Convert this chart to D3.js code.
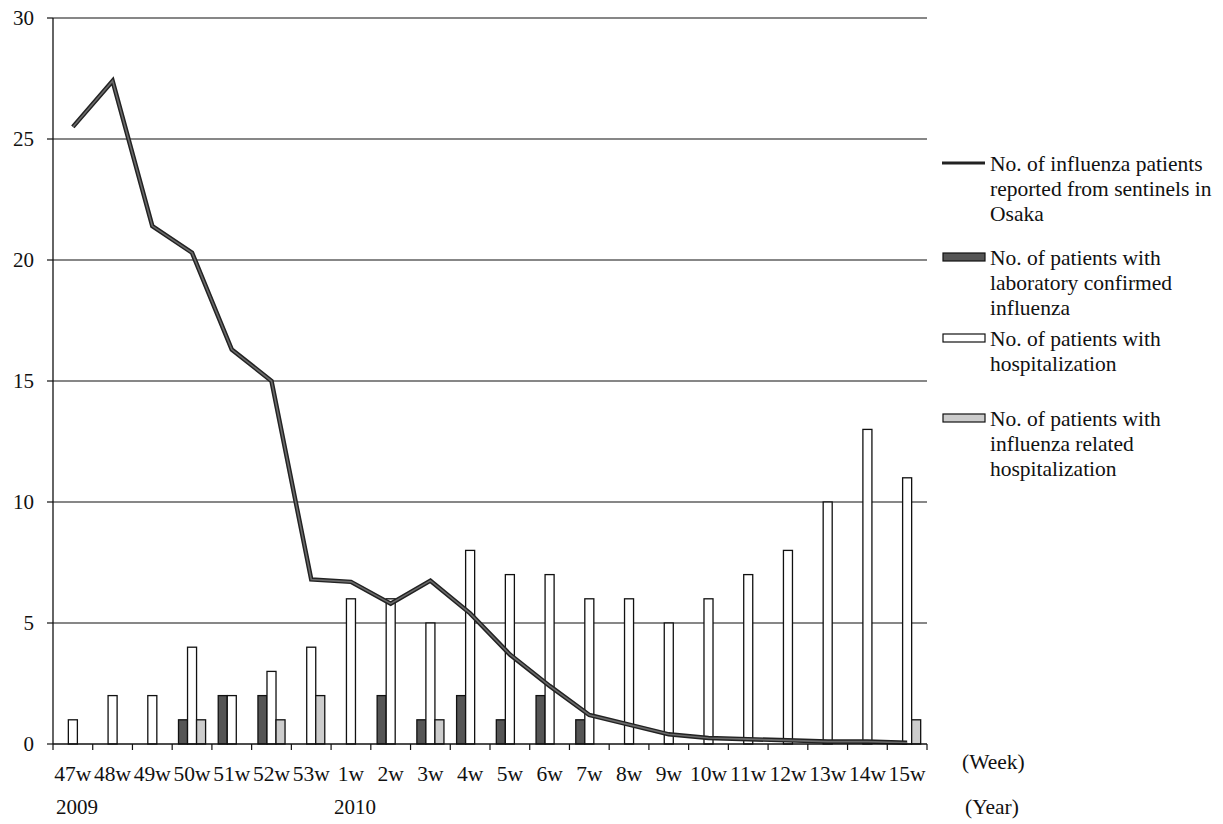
<!DOCTYPE html>
<html>
<head>
<meta charset="utf-8">
<script src="https://cdn.jsdelivr.net/npm/d3@7"></script>
<style>
  html, body { margin: 0; padding: 0; background: #fff; }
  svg { display: block; }
  text { font-family: "Liberation Serif", "Times New Roman", serif; fill: #111; }
</style>
</head>
<body>
<svg id="chart" width="1223" height="824"></svg>
<script>
// ---- data ----
const weeks = ["47w","48w","49w","50w","51w","52w","53w","1w","2w","3w","4w","5w","6w","7w","8w","9w","10w","11w","12w","13w","14w","15w"];
const sentinelPatients = [25.5,27.4,21.4,20.3,16.3,15.0,6.8,6.7,5.8,6.75,5.4,3.7,2.4,1.2,0.8,0.4,0.25,0.2,0.15,0.1,0.1,0.05];
const labConfirmed =     [0,0,0,1,2,2,0,0,2,1,2,1,2,1,0,0,0,0,0,0,0,0];
const hospitalization =  [1,2,2,4,2,3,4,6,6,5,8,7,7,6,6,5,6,7,8,10,13,11];
const influenzaRelated = [0,0,0,1,0,1,2,0,0,1,0,0,0,0,0,0,0,0,0,0,0,1];
const yTicks = [0,5,10,15,20,25,30];
const yearLabels = [{year:"2009", week:"47w"},{year:"2010", week:"1w"}];
const legendLabels = [
  ["No. of influenza patients","reported from sentinels in","Osaka"],
  ["No. of patients with","laboratory confirmed","influenza"],
  ["No. of patients with","hospitalization"],
  ["No. of patients with","influenza related","hospitalization"]
];

// ---- layout ----
const svg = d3.select("#chart");
const plotLeft = 53, plotRight = 927, plotTop = 18, plotBottom = 744;

const x = d3.scaleBand().domain(weeks).range([plotLeft, plotRight]).paddingInner(0).paddingOuter(0);
const y = d3.scaleLinear().domain([0, 30]).range([plotBottom, plotTop]);
const sub = d3.scaleBand().domain(["lab","hosp","rel"]).range([0, x.bandwidth()]).paddingInner(0).paddingOuter(0.7);

const colors = { lab: "#555555", hosp: "#ffffff", rel: "#cccccc" };

// gridlines
svg.append("g").selectAll("line").data(yTicks.filter(d => d > 0)).join("line")
  .attr("x1", plotLeft).attr("x2", plotRight)
  .attr("y1", d => y(d)).attr("y2", d => y(d))
  .attr("stroke", "#111").attr("stroke-width", 1.2);

// bars
const series = [
  {key: "lab", values: labConfirmed},
  {key: "hosp", values: hospitalization},
  {key: "rel", values: influenzaRelated}
];
const barG = svg.append("g");
series.forEach(s => {
  barG.append("g").selectAll("rect")
    .data(weeks.map((w, i) => ({w, v: s.values[i]})).filter(d => d.v > 0))
    .join("rect")
    .attr("x", d => x(d.w) + sub(s.key))
    .attr("y", d => y(d.v))
    .attr("width", sub.bandwidth())
    .attr("height", d => y(0) - y(d.v))
    .attr("fill", colors[s.key])
    .attr("stroke", "#111").attr("stroke-width", 1.3);
});

// line
const lineGen = d3.line()
  .x((d, i) => x(weeks[i]) + x.bandwidth() / 2)
  .y(d => y(d));
svg.append("path").datum(sentinelPatients)
  .attr("d", lineGen).attr("fill", "none")
  .attr("stroke", "#222").attr("stroke-width", 4.5).attr("stroke-linejoin", "miter");
svg.append("path").datum(sentinelPatients)
  .attr("d", lineGen).attr("fill", "none")
  .attr("stroke", "#6a6a6a").attr("stroke-width", 1.6);

// y axis
const yAxis = svg.append("g");
yAxis.append("line").attr("x1", plotLeft).attr("x2", plotLeft).attr("y1", plotTop).attr("y2", plotBottom)
  .attr("stroke", "#111").attr("stroke-width", 1.3);
yAxis.selectAll("line.tick").data(yTicks).join("line").attr("class", "tick")
  .attr("x1", plotLeft - 6).attr("x2", plotLeft).attr("y1", d => y(d)).attr("y2", d => y(d))
  .attr("stroke", "#111").attr("stroke-width", 1.2);
yAxis.selectAll("text").data(yTicks).join("text")
  .attr("x", 34).attr("y", d => y(d)).attr("dy", "0.35em")
  .attr("text-anchor", "end").attr("font-size", 21)
  .text(d => d);

// x axis
const xAxis = svg.append("g");
xAxis.append("line").attr("x1", plotLeft).attr("x2", plotRight).attr("y1", plotBottom).attr("y2", plotBottom)
  .attr("stroke", "#111").attr("stroke-width", 1.3);
const bounds = weeks.map(w => x(w)).concat([x(weeks[weeks.length - 1]) + x.bandwidth()]);
xAxis.selectAll("line.tick").data(bounds).join("line").attr("class", "tick")
  .attr("x1", d => d).attr("x2", d => d).attr("y1", plotBottom).attr("y2", plotBottom + 6)
  .attr("stroke", "#111").attr("stroke-width", 1.2);
xAxis.selectAll("text.wk").data(weeks).join("text").attr("class", "wk")
  .attr("x", d => x(d) + x.bandwidth() / 2).attr("y", 773).attr("dy", "0.35em")
  .attr("text-anchor", "middle").attr("font-size", 21.5)
  .text(d => d);
xAxis.selectAll("text.yr").data(yearLabels).join("text").attr("class", "yr")
  .attr("x", d => x(d.week) + 3).attr("y", 807).attr("dy", "0.35em")
  .attr("text-anchor", "start").attr("font-size", 21)
  .text(d => d.year);
svg.append("text").attr("x", 962).attr("y", 761).attr("dy", "0.35em").attr("font-size", 21.5).text("(Week)");
svg.append("text").attr("x", 965).attr("y", 806).attr("dy", "0.35em").attr("font-size", 21.5).text("(Year)");

// legend
const legendY = [163, 257, 338, 418];
const lineH = 25;
const lg = svg.append("g");
legendLabels.forEach((lines, i) => {
  const cy = legendY[i];
  if (i === 0) {
    lg.append("line").attr("x1", 942).attr("x2", 985).attr("y1", cy).attr("y2", cy)
      .attr("stroke", "#222").attr("stroke-width", 3);
  } else {
    const key = ["lab","hosp","rel"][i - 1];
    lg.append("rect").attr("x", 943).attr("y", cy - 4).attr("width", 42).attr("height", 8)
      .attr("fill", colors[key]).attr("stroke", "#111").attr("stroke-width", 1.2);
  }
  lines.forEach((t, j) => {
    lg.append("text").attr("x", 990).attr("y", cy + j * lineH).attr("dy", "0.35em")
      .attr("font-size", 21.5).text(t);
  });
});
</script>
</body>
</html>
